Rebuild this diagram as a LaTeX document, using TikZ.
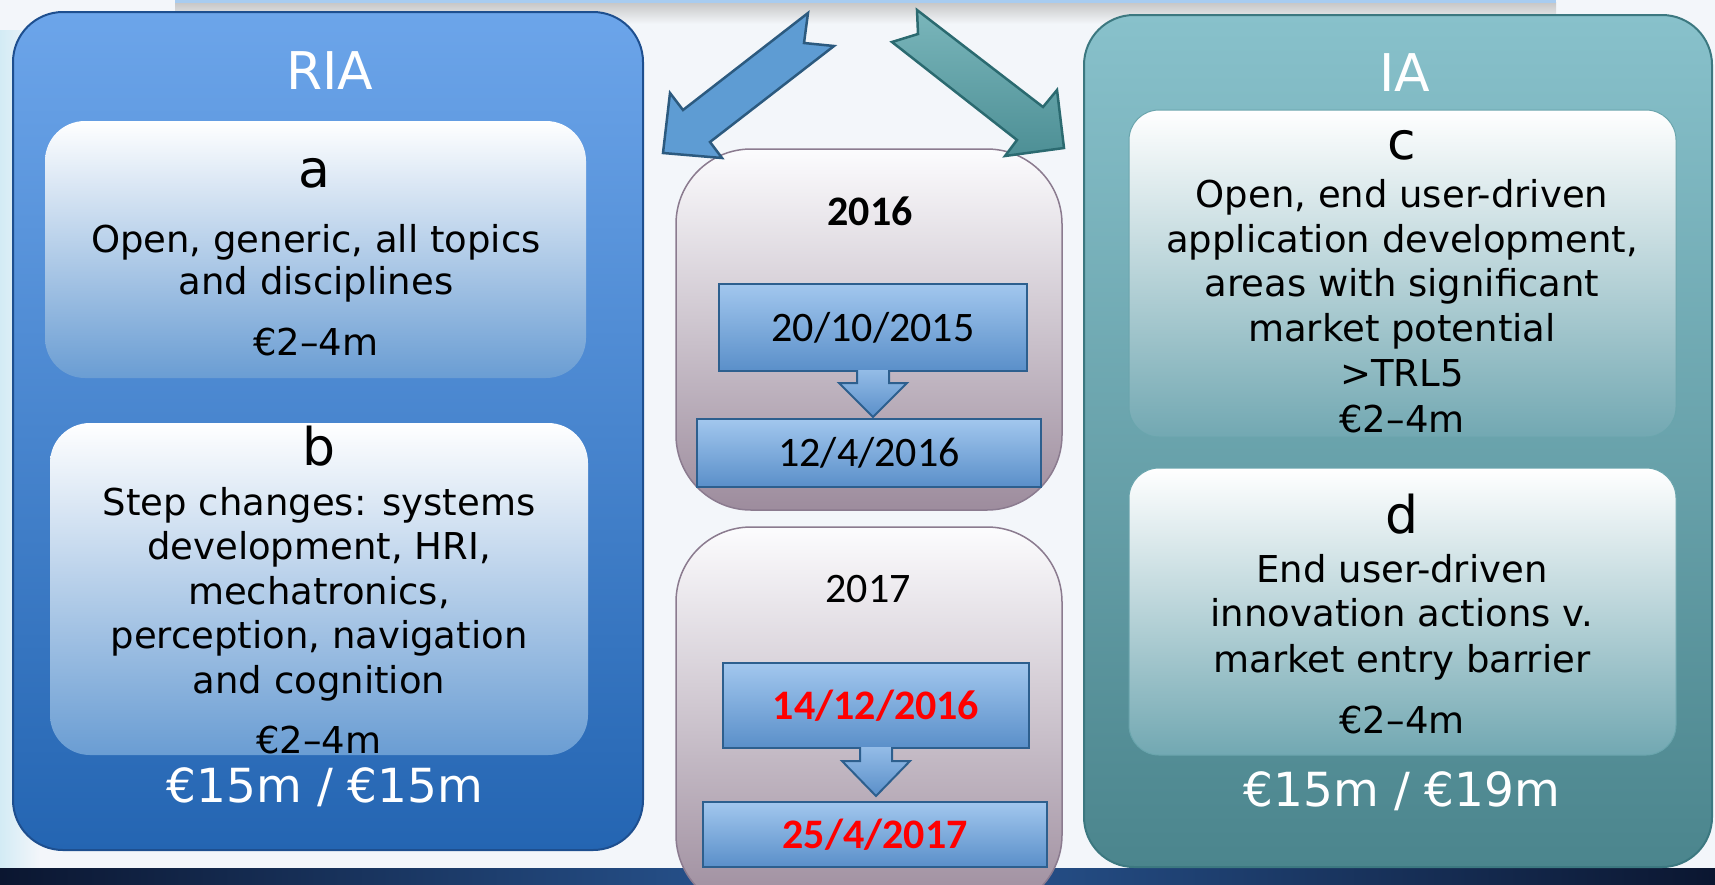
\documentclass[tikz,border=0pt]{standalone}
\usepackage{fontspec}
\setmainfont{DejaVu Sans}
\newfontfamily\cbfont{Carlito}
\usetikzlibrary{calc}
\definecolor{bgc}{HTML}{F3F6FA}
\definecolor{bgglow}{HTML}{D3EBF5}
\definecolor{topbar}{HTML}{A8CCF0}
\definecolor{bandd}{HTML}{0B1630}
\definecolor{bandl}{HTML}{2B5C9C}
\definecolor{riatop}{HTML}{6CA5EA}
\definecolor{riabot}{HTML}{2465B2}
\definecolor{riaedge}{HTML}{1E4F8F}
\definecolor{iatop}{HTML}{88C1CB}
\definecolor{iabot}{HTML}{4B858D}
\definecolor{iaedge}{HTML}{3C7880}
\definecolor{inbluebot}{HTML}{6A9DD3}
\definecolor{intealbot}{HTML}{72A8B2}
\definecolor{intealedge}{HTML}{6AA5AD}
\definecolor{mauvetop}{HTML}{FCFCFE}
\definecolor{mauvebot}{HTML}{9D8C9D}
\definecolor{mauveedge}{HTML}{8B7B8F}
\definecolor{datetop}{HTML}{A2C7EE}
\definecolor{datebot}{HTML}{5A8FC9}
\definecolor{dateedge}{HTML}{2D5F8E}
\definecolor{arrblue}{HTML}{5E9CD3}
\definecolor{arrblueedge}{HTML}{2C5A7F}
\definecolor{arrtealtop}{HTML}{7AB6BB}
\definecolor{arrtealbot}{HTML}{4D8F95}
\definecolor{arrtealedge}{HTML}{2B6A70}
\definecolor{datered}{HTML}{FF0000}
\tikzset{
  riabox/.style={draw=riaedge, line width=2pt, top color=riatop, bottom color=riabot, rounded corners=50pt},
  iabox/.style={draw=iaedge, line width=2pt, top color=iatop, bottom color=iabot, rounded corners=50pt},
  inblue/.style={top color=white, bottom color=inbluebot, rounded corners=40pt},
  inteal/.style={draw=intealedge, line width=1pt, top color=white, bottom color=intealbot, rounded corners=30pt},
  yearbox/.style={draw=mauveedge, line width=1.5pt, top color=mauvetop, bottom color=mauvebot, rounded corners=75pt},
  datebox/.style={draw=dateedge, line width=2pt, top color=datetop, bottom color=datebot, inner sep=0pt,
    font=\cbfont\fontsize{42}{50}\selectfont, text height=27pt, text depth=0pt},
  redtext/.style={text=datered, font=\cbfont\bfseries\fontsize{42}{50}\selectfont},
  smallarrow/.style={draw=dateedge, line width=2pt, top color=datetop!80!datebot, bottom color=datebot, line join=miter},
  bigarrow/.style={draw=arrblueedge, line width=2.5pt, fill=arrblue, line join=miter},
  tealarrow/.style={draw=arrtealedge, line width=2.5pt, top color=arrtealtop, bottom color=arrtealbot, line join=miter},
  body/.style={font=\fontsize{37}{44}\selectfont, inner sep=0pt, anchor=base},
  letter/.style={font=\fontsize{52}{60}\selectfont, inner sep=0pt, anchor=base},
  title/.style={font=\fontsize{52}{60}\selectfont, inner sep=0pt, anchor=base, text=white},
  total/.style={font=\fontsize{47}{56}\selectfont, inner sep=0pt, anchor=base, text=white},
  yeartext/.style={font=\cbfont\fontsize{42}{50}\selectfont, inner sep=0pt, anchor=base},
}
\begin{document}
\begin{tikzpicture}[x=1pt,y=-1pt]
\useasboundingbox (0,0) rectangle (1715,884);
\clip (0,0) rectangle (1715,884);
% background
\fill[bgc] (0,0) rectangle (1715,884);
\shade[left color=bgglow, right color=bgc] (0,30) rectangle (40,868);
\shade[top color=gray!45, bottom color=bgc] (175,2) rectangle (1556,24);
\fill[topbar] (175,0) rectangle (1556,3);
\shade[left color=bandd, right color=bandd, middle color=bandl] (0,868) rectangle (1715,884);

% RIA column
\path[riabox] (13,12) rectangle (643,850);
\path[inblue] (45,121) rectangle (586,378);
\path[inblue] (50,423) rectangle (588,755);
\node[title] (ria) at (330,89) {RIA};
\node[letter] (la) at (314,187) {a};
\node[body] (a1) at (316,252) {Open, generic, all topics};
\node[body] (a2) at (316,294) {and disciplines};
\node[body] (a3) at (316,355) {€2–4m};
\node[letter] (lb) at (319,465) {b};
\node[body] (b1) at (319,515) {Step changes: systems};
\node[body] (b2) at (319,559) {development, HRI,};
\node[body] (b3) at (319,604) {mechatronics,};
\node[body] (b4) at (319,648) {perception, navigation};
\node[body] (b5) at (319,693) {and cognition};
\node[body] (b6) at (319,753) {€2–4m};
\node[total] (riatot) at (325,802) {€15m / €15m};

% IA column
\path[iabox] (1084,15) rectangle (1712,867);
\path[inteal] (1129,110) rectangle (1676,437);
\path[inteal] (1129,468) rectangle (1676,755);
\node[title] (ia) at (1405,91) {IA};
\node[letter] (lc) at (1402,159) {c};
\node[body] (c1) at (1402,207) {Open, end user-driven};
\node[body] (c2) at (1402,252) {application development,};
\node[body] (c3) at (1402,296) {areas with significant};
\node[body] (c4) at (1402,341) {market potential};
\node[body] (c5) at (1402,386) {>TRL5};
\node[body] (c6) at (1402,432) {€2–4m};
\node[letter] (ld) at (1402,533) {d};
\node[body] (d1t) at (1402,582) {End user-driven};
\node[body] (d2t) at (1402,626) {innovation actions v.};
\node[body] (d3t) at (1402,672) {market entry barrier};
\node[body] (d4t) at (1402,733) {€2–4m};
\node[total] (iatot) at (1402,806) {€15m / €19m};

% middle year boxes
\path[yearbox] (676,149) rectangle (1062,510);
\path[yearbox] (676,527) rectangle (1062,910);
\node[yeartext, font=\cbfont\bfseries\fontsize{42}{50}\selectfont] (y16) at (870,225) {2016};
\node[yeartext] (y17) at (868,602) {2017};

\node[datebox, minimum width=308pt, minimum height=87pt] (d1) at (873,327.5) {20/10/2015};
\path[smallarrow] ($(d1.south)+(-16,-2)$) -- ($(d1.south)+(-16,11)$) -- ($(d1.south)+(-34,11)$)
   -- ($(d1.south)+(0,45)$) -- ($(d1.south)+(34,11)$) -- ($(d1.south)+(16,11)$) -- ($(d1.south)+(16,-2)$);
\node[datebox, minimum width=344pt, minimum height=68pt] (d2) at (869,453) {12/4/2016};

\node[datebox, redtext, minimum width=306pt, minimum height=85pt] (d3) at (876,705.5) {14/12/2016};
\path[smallarrow] ($(d3.south)+(-16,-2)$) -- ($(d3.south)+(-16,12)$) -- ($(d3.south)+(-34,12)$)
   -- ($(d3.south)+(0,47)$) -- ($(d3.south)+(34,12)$) -- ($(d3.south)+(16,12)$) -- ($(d3.south)+(16,-2)$);
\node[datebox, redtext, minimum width=344pt, minimum height=65pt] (d4) at (875,834.5) {25/4/2017};

% big arrows
\path[bigarrow] (808,13) -- (804,43) -- (834,46) -- (710,142) -- (722,158) -- (663,153)
   -- (670,93) -- (683,110) -- cycle;
\path[tealarrow] (917,10) -- (1043,107) -- (1057,90) -- (1064,148) -- (1005,156)
   -- (1017,140) -- (892,42) -- (918,34) -- cycle;
\end{tikzpicture}
\end{document}
